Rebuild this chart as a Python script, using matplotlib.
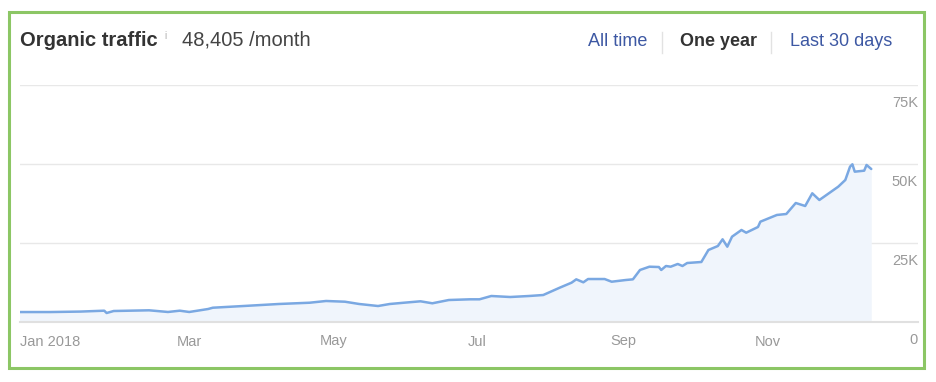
import pandas as pd
import matplotlib
matplotlib.use('Agg')
import matplotlib.pyplot as plt
from matplotlib.patches import Rectangle
from matplotlib.lines import Line2D
from matplotlib import transforms

plt.rcParams['font.family'] = ['Liberation Sans', 'DejaVu Sans']

# organic traffic
dates = ['2017-12-19', '2018-01-01', '2018-01-14', '2018-01-24', '2018-01-25', '2018-01-28',
         '2018-02-12', '2018-02-20', '2018-02-25', '2018-03-01', '2018-03-09', '2018-03-11',
         '2018-03-24', '2018-04-08', '2018-04-21', '2018-04-28', '2018-05-06', '2018-05-12',
         '2018-05-20', '2018-05-25', '2018-05-31', '2018-06-07', '2018-06-12', '2018-06-19',
         '2018-06-28', '2018-07-02', '2018-07-07', '2018-07-15', '2018-07-23', '2018-07-29',
         '2018-08-05', '2018-08-10', '2018-08-12', '2018-08-15', '2018-08-17', '2018-08-24',
         '2018-08-27', '2018-09-02', '2018-09-05', '2018-09-08', '2018-09-12', '2018-09-16',
         '2018-09-17', '2018-09-19', '2018-09-21', '2018-09-24', '2018-09-26', '2018-09-28',
         '2018-10-04', '2018-10-07', '2018-10-11', '2018-10-13', '2018-10-15', '2018-10-17',
         '2018-10-21', '2018-10-23', '2018-10-28', '2018-10-29', '2018-11-05', '2018-11-09',
         '2018-11-13', '2018-11-17', '2018-11-20', '2018-11-23', '2018-11-28', '2018-12-01',
         '2018-12-04', '2018-12-06', '2018-12-07', '2018-12-08', '2018-12-12', '2018-12-13',
         '2018-12-15']
traffic = [3150, 3150, 3300, 3580, 2850, 3480,
           3700, 3170, 3580, 3170, 4110, 4520,
           5060, 5700, 6100, 6650, 6420, 5700,
           5060, 5700, 6100, 6550, 5920, 6960,
           7180, 7180, 8230, 7910, 8230, 8540,
           10860, 12440, 13500, 12560, 13600, 13600,
           12750, 13290, 13500, 16460, 17500, 17400,
           16460, 17720, 17500, 18360, 17720, 18670,
           18990, 22790, 24050, 26170, 23830, 27000,
           29120, 28260, 30070, 31740, 33870, 34180,
           37660, 36710, 40730, 38610, 41240, 42820,
           44940, 49150, 49910, 47570, 47890, 49690,
           48420]

y_ticks = [0, 25000, 50000, 75000]
y_labels = ['0', '25K', '50K', '75K']
x_ticks = ['2018-01-01', '2018-03-01', '2018-05-01', '2018-07-01', '2018-09-01', '2018-11-01']
x_labels = ['Jan 2018', 'Mar', 'May', 'Jul', 'Sep', 'Nov']

W, H = 937, 382
fig = plt.figure(figsize=(W / 100, H / 100), dpi=100)
fig.patch.set_facecolor('white')

def fx(px):
    return px / W

def fy(py):
    return 1 - py / H

ax = fig.add_axes([fx(20), fy(322), fx(918) - fx(20), fy(85) - fy(322)])
t = pd.to_datetime(dates)
ax.fill_between(t, traffic, 0, color='#f0f5fc', lw=0)
ax.plot(t, traffic, color='#7aa8e2', lw=1.8, solid_joinstyle='round', solid_capstyle='round')

ax.set_xlim(pd.Timestamp('2018-01-01') - pd.Timedelta(days=12.7),
            pd.Timestamp('2018-01-01') + pd.Timedelta(days=367.8))
ax.set_ylim(0, 75000)

for s in ['top', 'right', 'left']:
    ax.spines[s].set_visible(False)
ax.spines['bottom'].set_color('#e0e0e0')
ax.spines['bottom'].set_linewidth(1.5)

ax.set_yticks(y_ticks)
ax.tick_params(axis='y', length=0, labelleft=False)
ax.grid(axis='y', color='#e8e8e8', lw=1)
ax.set_axisbelow(True)

ax.set_xticks(pd.to_datetime(x_ticks))
ax.set_xticklabels(x_labels)
ax.tick_params(axis='x', direction='in', length=6.5, width=1, color='#cccccc',
               labelcolor='#999999', labelsize=10.5, pad=9)

# y labels sit under their gridlines at the right edge
off = transforms.offset_copy(ax.get_yaxis_transform(), fig=fig, x=0, y=-18, units='dots')
for v, lab in zip(y_ticks, y_labels):
    ax.text(1.0, v, lab, transform=off, ha='right', va='center', fontsize=10.5, color='#999999')

# header
fig.text(fx(20), fy(40), 'Organic traffic', fontsize=14.5, fontweight='bold', color='#333333',
         ha='left', va='center')
fig.text(fx(164), fy(36), 'i', fontsize=7, color='#b0b0b0', ha='left', va='center')
fig.text(fx(182), fy(40), '48,405 /month', fontsize=14.5, color='#444444', ha='left', va='center')

fig.text(fx(588), fy(42), 'All time', fontsize=13, color='#3d58a3', ha='left', va='center')
fig.text(fx(680), fy(42), 'One year', fontsize=13, fontweight='bold', color='#333333',
         ha='left', va='center')
fig.text(fx(790), fy(42), 'Last 30 days', fontsize=13, color='#3d58a3', ha='left', va='center')
for sx in [662, 771]:
    fig.add_artist(Line2D([fx(sx), fx(sx)], [fy(32), fy(53)], color='#e2e2e2', lw=1))

# green frame
fig.add_artist(Rectangle((fx(9), fy(368)), fx(924) - fx(9), fy(12) - fy(368),
                         fill=False, edgecolor='#8cc665', lw=2.2, transform=fig.transFigure))

plt.savefig('out.png', dpi=100)
plt.close()
